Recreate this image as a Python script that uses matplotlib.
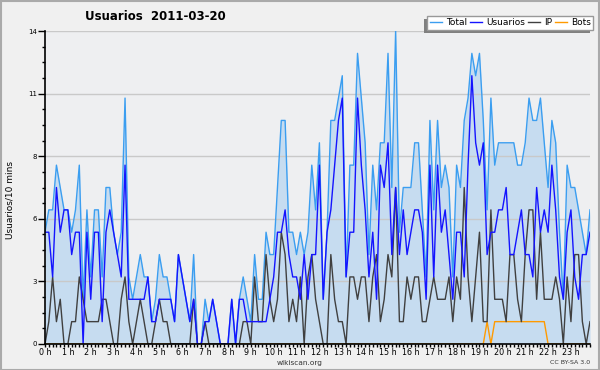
import numpy as np
import matplotlib
matplotlib.use('Agg')
import matplotlib.pyplot as plt
from matplotlib.patches import Rectangle
from matplotlib.lines import Line2D

title = "Usuarios  2011-03-20"
ylabel = "Usuarios/10 mins"
hour_labels = [f"{h} h" for h in range(24)]
series_names = ["Total", "Usuarios", "IP", "Bots"]

usuarios = [5, 5, 3, 7, 5, 6, 6, 4, 5, 5, 0, 5, 2, 5, 5, 1, 5, 6, 5, 4,
            3, 8, 2, 2, 2, 2, 2, 3, 1, 1, 2, 2, 2, 2, 1, 4, 3, 2, 1, 2,
            0, 0, 1, 1, 2, 1, 0, 0, 0, 2, 0, 2, 2, 1, 1, 1, 1, 1, 1, 2,
            3, 5, 5, 6, 4, 3, 3, 2, 4, 2, 4, 4, 8, 2, 5, 6, 8, 10, 11, 3,
            5, 5, 11, 8, 6, 3, 5, 2, 8, 7, 9, 4, 7, 4, 6, 4, 5, 6, 6, 5,
            2, 8, 3, 8, 5, 6, 4, 2, 5, 5, 3, 8, 12, 9, 8, 9, 4, 5, 5, 6,
            6, 7, 4, 4, 5, 6, 4, 4, 3, 7, 5, 6, 5, 8, 6, 3, 2, 5, 6, 3,
            2, 4, 4, 5]
ip = [0, 1, 3, 1, 2, 0, 0, 1, 1, 3, 2, 1, 1, 1, 1, 2, 2, 1, 0, 0,
      2, 3, 1, 0, 1, 2, 1, 0, 0, 1, 2, 1, 1, 0, 0, 0, 0, 0, 0, 2,
      0, 0, 1, 0, 0, 0, 0, 0, 0, 0, 0, 0, 1, 1, 0, 3, 1, 1, 4, 2,
      1, 2, 5, 4, 1, 2, 1, 3, 0, 3, 4, 2, 1, 0, 0, 4, 2, 1, 1, 0,
      3, 3, 2, 3, 3, 1, 3, 4, 1, 2, 4, 3, 7, 1, 1, 3, 2, 3, 3, 1,
      1, 2, 3, 2, 2, 2, 3, 1, 3, 2, 7, 3, 1, 3, 5, 1, 1, 6, 2, 2,
      2, 1, 4, 4, 2, 1, 4, 6, 6, 2, 5, 2, 2, 2, 3, 2, 0, 3, 1, 4,
      4, 1, 0, 1]
bots = [0] * 116 + [1, 0] + [1] * 14 + [0] * 12
total = [5, 6, 6, 8, 7, 6, 6, 5, 6, 8, 2, 6, 3, 6, 6, 3, 7, 7, 5, 4,
         5, 11, 3, 2, 3, 4, 3, 3, 1, 2, 4, 3, 3, 2, 1, 4, 3, 2, 1, 4,
         0, 0, 2, 1, 2, 1, 0, 0, 0, 2, 0, 2, 3, 2, 1, 4, 2, 2, 5, 4,
         4, 7, 10, 10, 5, 5, 4, 5, 4, 5, 8, 6, 9, 2, 5, 10, 10, 11, 12, 3,
         8, 8, 13, 11, 9, 4, 8, 6, 9, 9, 13, 7, 14, 5, 7, 7, 7, 9, 9, 6,
         3, 10, 6, 10, 7, 8, 7, 3, 8, 7, 10, 11, 13, 12, 13, 10, 6, 11, 8, 9,
         9, 9, 9, 9, 8, 8, 9, 11, 10, 10, 11, 9, 7, 10, 9, 5, 2, 8, 7, 7,
         6, 5, 4, 6]

c_total = '#3b9ef0'
c_fill = '#c6dcf0'
c_users = '#1414ff'
c_ip = '#404040'
c_bots = '#ff9a00'

W, H = 600, 370
fig = plt.figure(figsize=(W / 100, H / 100), dpi=100, facecolor='#f0f0f0')
ax = fig.add_axes([45 / W, 26 / H, 545 / W, 313 / H])
ax.set_facecolor('#eeeff1')

x = np.arange(len(total))
ax.fill_between(x, 0, total, color=c_fill, lw=0, zorder=0.5)
ymaj = np.linspace(0, 14, 6)
for yv in ymaj[1:]:
    ax.axhline(yv, color='#c9c9c9', lw=1, zorder=1)
ax.plot(x, total, color=c_total, lw=1, zorder=2)
ax.plot(x, bots, color=c_bots, lw=1, zorder=2.1)
ax.plot(x, ip, color=c_ip, lw=1, zorder=2.2)
ax.plot(x, usuarios, color=c_users, lw=1, zorder=2.3)

ax.set_xlim(0, len(total) - 1)
ax.set_ylim(0, 14)
ax.set_yticks(ymaj)
ax.set_yticklabels([f"{round(v)}" for v in ymaj])
ax.set_yticks(np.arange(0, 14.01, 0.7), minor=True)
ax.set_xticks(np.arange(0, 144, 6))
ax.set_xticklabels(hour_labels)
ax.set_xticks(x, minor=True)
for s in ['top', 'right']:
    ax.spines[s].set_visible(False)
for s in ['left', 'bottom']:
    ax.spines[s].set_color('black')
    ax.spines[s].set_linewidth(1.2)
    ax.spines[s].set_zorder(3)
ax.tick_params(axis='x', which='major', length=2.2, width=1, labelsize=5.8, pad=0.5)
ax.tick_params(axis='x', which='minor', length=2.2, width=1)
ax.tick_params(axis='y', which='major', length=5, width=1, labelsize=5, pad=0.5)
ax.tick_params(axis='y', which='minor', length=2.2, width=1)

fig.text(10 / W, 1 - 200 / H, ylabel, rotation=90, ha='center', va='center',
         fontsize=6.5)
fig.text(85 / W, 1 - 16 / H, title, ha='left', va='center', fontsize=8.5,
         fontweight='bold')
fig.text(300 / W, 1 - 362.5 / H, 'wikiscan.org', ha='center', va='center',
         fontsize=5.3, color='#333333')
fig.text(590 / W, 1 - 362.5 / H, 'CC BY-SA 3.0', ha='right', va='center',
         fontsize=4.5, color='#333333')

handles = [Line2D([], [], color=c, lw=1) for c in [c_total, c_users, c_ip, c_bots]]
leg = fig.legend(handles, series_names, loc='upper right',
                 bbox_to_anchor=(593 / W, 1 - 16 / H), ncol=4, fontsize=6.5,
                 handlelength=1.4, handletextpad=0.4, columnspacing=0.3,
                 borderpad=0.25, borderaxespad=0, fancybox=False,
                 framealpha=1, edgecolor='#999999', facecolor='white')
leg.get_frame().set_linewidth(1)
leg.set_zorder(6)

fig.canvas.draw()
bb = leg.get_window_extent()
fig.add_artist(Rectangle(((bb.x0 - 3) / W, (bb.y0 - 3) / H), bb.width / W, bb.height / H,
                         transform=fig.transFigure, facecolor='#808080',
                         edgecolor='none', zorder=5))
fig.add_artist(Rectangle((0.5 / W, 0.5 / H), (W - 1.5) / W, (H - 1.5) / H,
                         transform=fig.transFigure, fill=False,
                         edgecolor='#aaaaaa', lw=1.5, zorder=10))

fig.savefig('out.png', dpi=100, facecolor=fig.get_facecolor())
